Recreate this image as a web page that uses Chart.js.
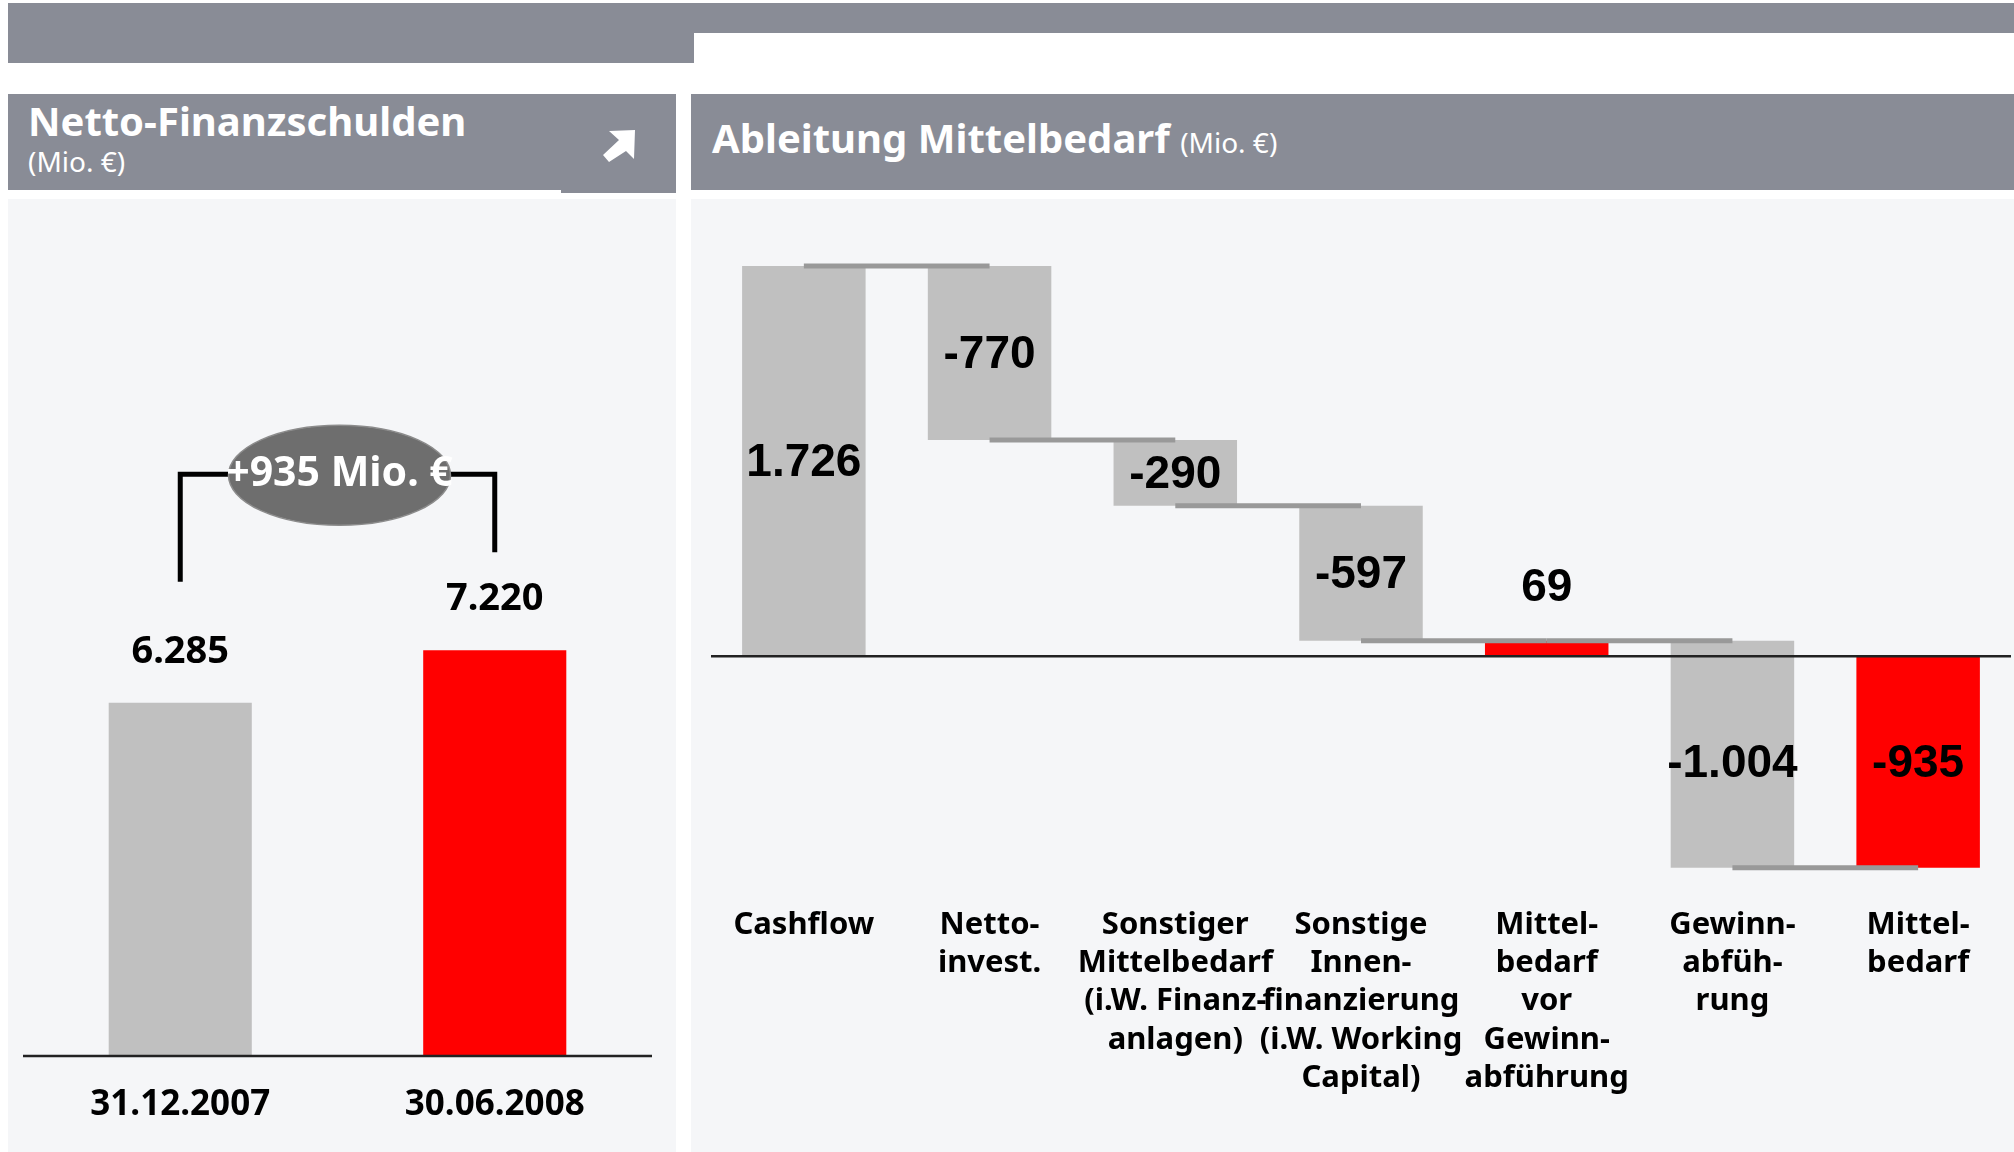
<!DOCTYPE html>
<html>
<head>
<meta charset="utf-8">
<script src="https://cdn.jsdelivr.net/npm/chart.js@4.4.1/dist/chart.umd.min.js"></script>
<style>
  body { margin: 0; width: 2014px; height: 1152px; position: relative; overflow: hidden; background: #fff; font-family: 'Noto Sans', sans-serif; }
  .gray { position: absolute; background: #898c96; }
  .body { position: absolute; background: #f5f6f8; }
  .title { position: absolute; color: #fff; font-weight: bold; font-size: 40px; line-height: 40px; white-space: nowrap; }
  .unit { font-weight: normal; font-size: 28px; }
  .sub { position: absolute; color: #fff; font-size: 28px; line-height: 28px; white-space: nowrap; }
  canvas { position: absolute; }
</style>
</head>
<body>
<div class="gray" style="left:8px;top:3px;width:2006px;height:30px"></div>
<div class="gray" style="left:8px;top:33px;width:686px;height:30px"></div>

<div class="gray" style="left:8px;top:94px;width:668px;height:96px"></div>
<div class="gray" style="left:561px;top:190px;width:115px;height:3px"></div>
<div class="title" style="left:28px;top:101px">Netto-Finanzschulden</div>
<div class="sub" style="left:28px;top:147px">(Mio. €)</div>
<svg style="position:absolute;left:580px;top:120px" width="80" height="60" viewBox="0 0 80 60">
  <path d="M29 11 L55 10 L54 39 L46 31 L29 42 L23 35 L39 20 Z" fill="#fff"/>
</svg>

<div class="gray" style="left:691px;top:94px;width:1323px;height:96px"></div>
<div class="title" style="left:712px;top:118px">Ableitung Mittelbedarf <span class="unit">(Mio. €)</span></div>

<div class="body" style="left:8px;top:199px;width:668px;height:953px"></div>
<div class="body" style="left:691px;top:199px;width:1323px;height:953px"></div>

<canvas id="left" width="668" height="953" style="left:8px;top:199px"></canvas>
<canvas id="right" width="1323" height="953" style="left:691px;top:199px"></canvas>

<script>
// Netto-Finanzschulden (Mio. €)
const leftCategories = ['31.12.2007', '30.06.2008'];
const leftValues = [6285, 7220];
const leftColors = ['#c0c0c0', '#ff0000'];

// Ableitung Mittelbedarf (Mio. €)
const rightCategories = [
  ['Cashflow'],
  ['Netto-', 'invest.'],
  ['Sonstiger', 'Mittelbedarf', '(i.W. Finanz-', 'anlagen)'],
  ['Sonstige', 'Innen-', 'finanzierung', '(i.W. Working', 'Capital)'],
  ['Mittel-', 'bedarf', 'vor', 'Gewinn-', 'abführung'],
  ['Gewinn-', 'abfüh-', 'rung'],
  ['Mittel-', 'bedarf'],
];
const rightValues = [1726, -770, -290, -597, 69, -1004, -935];
const rightIsTotal = [true, false, false, false, true, false, true];
const rightColors = ['#c0c0c0', '#c0c0c0', '#c0c0c0', '#c0c0c0', '#ff0000', '#c0c0c0', '#ff0000'];

const fmt = (v) => {
  const s = Math.abs(v).toString().replace(/\B(?=(\d{3})+(?!\d))/g, '.');
  return (v < 0 ? '-' : '') + s;
};

// floating ranges for the waterfall
let running = 0;
const rightRanges = rightValues.map((v, i) => {
  let r;
  if (rightIsTotal[i]) {
    r = [0, v];
  } else {
    r = [running, running + v];
  }
  running = r[1];
  return r;
});

const baseLine = {
  id: 'baseLine',
  afterDatasetsDraw(chart) {
    const { ctx, chartArea } = chart;
    const y = chart.scales.y.getPixelForValue(0);
    ctx.save();
    ctx.strokeStyle = '#222';
    ctx.lineWidth = 2.5;
    ctx.beginPath();
    ctx.moveTo(chartArea.left, y);
    ctx.lineTo(chartArea.right, y);
    ctx.stroke();
    ctx.restore();
  },
};

const leftExtras = {
  id: 'leftExtras',
  afterDatasetsDraw(chart) {
    const { ctx } = chart;
    const bars = chart.getDatasetMeta(0).data;
    ctx.save();
    ctx.fillStyle = '#000';
    ctx.font = 'bold 38px "Noto Sans"';
    ctx.textAlign = 'center';
    ctx.textBaseline = 'middle';
    bars.forEach((b, i) => ctx.fillText(fmt(leftValues[i]), b.x, b.y - 51));

    // bracket with difference bubble
    const x1 = bars[0].x;
    const x2 = bars[1].x;
    const topY = Math.min(bars[0].y, bars[1].y) - 176;
    ctx.strokeStyle = '#000';
    ctx.lineWidth = 5;
    ctx.lineJoin = 'miter';
    ctx.beginPath();
    ctx.moveTo(x1, bars[0].y - 121);
    ctx.lineTo(x1, topY);
    ctx.lineTo(x2, topY);
    ctx.lineTo(x2, bars[1].y - 98);
    ctx.stroke();

    const cx = (x1 + x2) / 2 + 2;
    ctx.beginPath();
    ctx.ellipse(cx, topY + 1, 111, 50, 0, 0, Math.PI * 2);
    ctx.fillStyle = '#6e6e6e';
    ctx.fill();
    ctx.strokeStyle = '#8c8c8c';
    ctx.lineWidth = 1.5;
    ctx.stroke();

    const diff = leftValues[1] - leftValues[0];
    ctx.fillStyle = '#fff';
    ctx.font = 'bold 41px "Noto Sans"';
    ctx.fillText((diff > 0 ? '+' : '') + fmt(diff) + ' Mio. €', cx, topY);
    ctx.restore();
  },
};

const rightExtras = {
  id: 'rightExtras',
  afterDatasetsDraw(chart) {
    const { ctx } = chart;
    const yScale = chart.scales.y;
    const y0 = yScale.getPixelForValue(0);
    const bars = chart.getDatasetMeta(0).data;
    ctx.save();
    // connectors
    ctx.strokeStyle = '#999';
    ctx.lineWidth = 5;
    for (let i = 0; i < bars.length - 1; i++) {
      const y = yScale.getPixelForValue(rightRanges[i][1]);
      ctx.beginPath();
      ctx.moveTo(bars[i].x, y);
      ctx.lineTo(bars[i + 1].x, y);
      ctx.stroke();
    }
    // value labels
    ctx.fillStyle = '#000';
    ctx.font = 'bold 46px "Liberation Sans"';
    ctx.textAlign = 'center';
    ctx.textBaseline = 'middle';
    bars.forEach((b, i) => {
      let top = yScale.getPixelForValue(Math.max(...rightRanges[i]));
      let bottom = yScale.getPixelForValue(Math.min(...rightRanges[i]));
      // a bar crossing zero keeps its label on the bigger side
      if (top < y0 && bottom > y0) {
        if (bottom - y0 > y0 - top) top = y0; else bottom = y0;
      }
      const y = bottom - top > 40 ? (top + bottom) / 2 + 2 : top - 52;
      ctx.fillText(fmt(rightValues[i]), b.x, y);
    });
    ctx.restore();
  },
};

new Chart(document.getElementById('left'), {
  type: 'bar',
  data: {
    labels: leftCategories,
    datasets: [{
      data: leftValues,
      backgroundColor: leftColors,
      borderWidth: 0,
      barPercentage: 0.455,
      categoryPercentage: 1,
    }],
  },
  options: {
    responsive: false,
    animation: false,
    devicePixelRatio: 1,
    layout: { padding: { left: 15, right: 24, top: 14, bottom: 0 } },
    plugins: { legend: { display: false }, tooltip: { enabled: false } },
    scales: {
      x: {
        grid: { display: false, drawTicks: false },
        border: { display: false },
        ticks: {
          color: '#000',
          font: { family: 'Noto Sans', weight: 'bold', size: 35, lineHeight: 1.2 },
          padding: 28,
          maxRotation: 0,
          autoSkip: false,
        },
        afterFit(scale) { scale.height = 96; },
      },
      y: { display: false, min: 0, max: 15000 },
    },
  },
  plugins: [baseLine, leftExtras],
});

new Chart(document.getElementById('right'), {
  type: 'bar',
  data: {
    labels: rightCategories,
    datasets: [{
      data: rightRanges,
      backgroundColor: rightColors,
      borderWidth: 0,
      borderSkipped: false,
      barPercentage: 0.665,
      categoryPercentage: 1,
    }],
  },
  options: {
    responsive: false,
    animation: false,
    devicePixelRatio: 1,
    layout: { padding: { left: 20, right: 3, top: 5, bottom: 0 } },
    plugins: { legend: { display: false }, tooltip: { enabled: false } },
    scales: {
      x: {
        grid: { display: false, drawTicks: false },
        border: { display: false },
        ticks: {
          color: '#000',
          font: { family: 'Noto Sans', weight: 'bold', size: 31, lineHeight: 1.24 },
          padding: 23,
          maxRotation: 0,
          autoSkip: false,
        },
        afterFit(scale) { scale.height = 269.5; },
      },
      y: { display: false, min: -1000, max: 2000 },
    },
  },
  plugins: [baseLine, rightExtras],
});
</script>
</body>
</html>
